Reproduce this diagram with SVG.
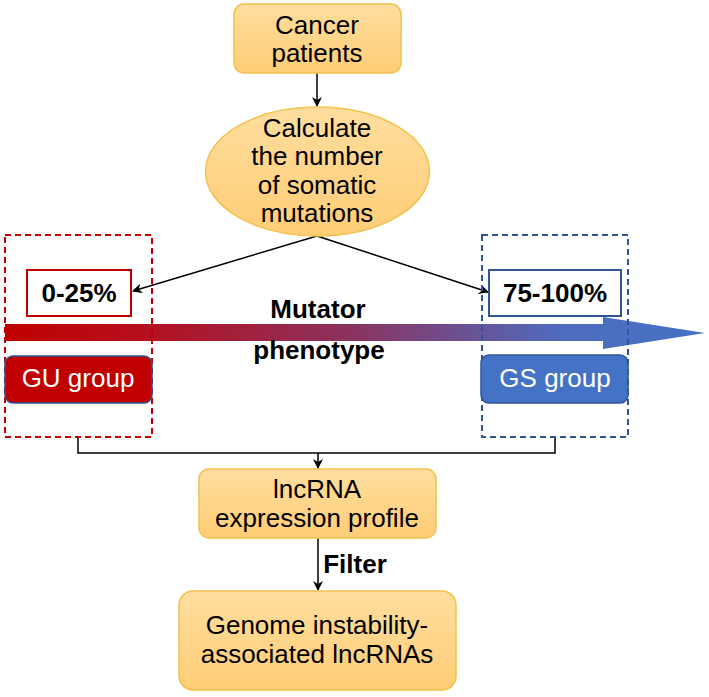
<svg xmlns="http://www.w3.org/2000/svg" width="709" height="697" viewBox="0 0 709 697">
<defs>
<linearGradient id="og" x1="0" y1="0" x2="0" y2="1">
<stop offset="0" stop-color="#FFDE9E"/>
<stop offset="1" stop-color="#FFCD76"/>
</linearGradient>
<linearGradient id="bar" x1="5" y1="0" x2="705" y2="0" gradientUnits="userSpaceOnUse">
<stop offset="0" stop-color="#C00000"/>
<stop offset="0.2" stop-color="#B5101E"/>
<stop offset="0.5" stop-color="#8A3461"/>
<stop offset="0.8" stop-color="#4E6CC0"/>
<stop offset="1" stop-color="#4472C4"/>
</linearGradient>
<marker id="ah" viewBox="0 0 10 10" refX="9" refY="5" markerWidth="10" markerHeight="10" markerUnits="userSpaceOnUse" orient="auto">
<path d="M0,0 L10,5 L0,10 L3,5 Z" fill="#000"/>
</marker>
<style>
.t{font-family:"Liberation Sans",Arial,sans-serif;font-size:26px;fill:#000;text-anchor:middle}
.b{font-weight:bold}
.w{fill:#fff}
.node{fill:url(#og);stroke:#F2C14E;stroke-width:1.5}
.con{stroke:#000;stroke-width:1.5;fill:none}
</style>
</defs>

<g id="connectors">
<line class="con" x1="317" y1="73" x2="317" y2="106" marker-end="url(#ah)"/>
<line class="con" x1="317" y1="236" x2="133" y2="291" marker-end="url(#ah)"/>
<line class="con" x1="317" y1="236" x2="488" y2="292" marker-end="url(#ah)"/>
<polyline class="con" points="78,437 78,453 555,453 555,437"/>
<line class="con" x1="318" y1="453" x2="318" y2="468" marker-end="url(#ah)"/>
<line class="con" x1="318" y1="538" x2="318" y2="590" marker-end="url(#ah)"/>
</g>

<g id="cancer-patients">
<rect class="node" x="234" y="4" width="167" height="69" rx="10"/>
<text class="t" x="317" y="34">Cancer</text>
<text class="t" x="317" y="62">patients</text>
</g>

<g id="calculate">
<ellipse class="node" cx="317.5" cy="171.5" rx="112" ry="64.5"/>
<text class="t" x="317" y="137">Calculate</text>
<text class="t" x="317" y="165">the number</text>
<text class="t" x="317" y="194">of somatic</text>
<text class="t" x="317" y="222">mutations</text>
</g>

<g id="mutator-arrow">
<path d="M5,324 L603,324 L603,317 L705,333 L603,349 L603,341 L5,341 Z" fill="url(#bar)"/>
<text class="t b" x="318" y="318">Mutator</text>
<text class="t b" x="319" y="359">phenotype</text>
</g>

<g id="gu-region">
<rect x="5" y="235" width="147" height="202" fill="none" stroke="#C00000" stroke-width="2" stroke-dasharray="6,4"/>
</g>
<g id="low-range">
<rect x="27" y="270" width="104" height="46" fill="#fff" stroke="#C00000" stroke-width="2"/>
<text class="t b" x="79" y="302">0-25%</text>
</g>
<g id="gu-group">
<rect x="5" y="356" width="147" height="47" rx="8" fill="#C00000" stroke="#2F5597" stroke-width="1.5"/>
<text class="t w" x="78" y="387">GU group</text>
</g>

<g id="gs-region">
<rect x="482" y="235" width="146" height="202" fill="none" stroke="#2F5597" stroke-width="2" stroke-dasharray="6,4"/>
</g>
<g id="high-range">
<rect x="489" y="270" width="132" height="46" fill="#fff" stroke="#2F5597" stroke-width="2"/>
<text class="t b" x="555" y="302">75-100%</text>
</g>
<g id="gs-group">
<rect x="481" y="355" width="147" height="48" rx="8" fill="#4472C4" stroke="#2F5597" stroke-width="1.5"/>
<text class="t w" x="555" y="387">GS group</text>
</g>

<g id="lncrna-profile">
<rect class="node" x="199" y="469" width="237" height="69" rx="10"/>
<text class="t" x="317" y="498">lncRNA</text>
<text class="t" x="317" y="527">expression profile</text>
</g>

<text class="t b" x="355" y="573">Filter</text>

<g id="gi-lncrnas">
<rect class="node" x="179" y="591" width="277" height="99" rx="14"/>
<text class="t" x="317" y="634">Genome instability-</text>
<text class="t" x="317" y="663">associated lncRNAs</text>
</g>
</svg>
